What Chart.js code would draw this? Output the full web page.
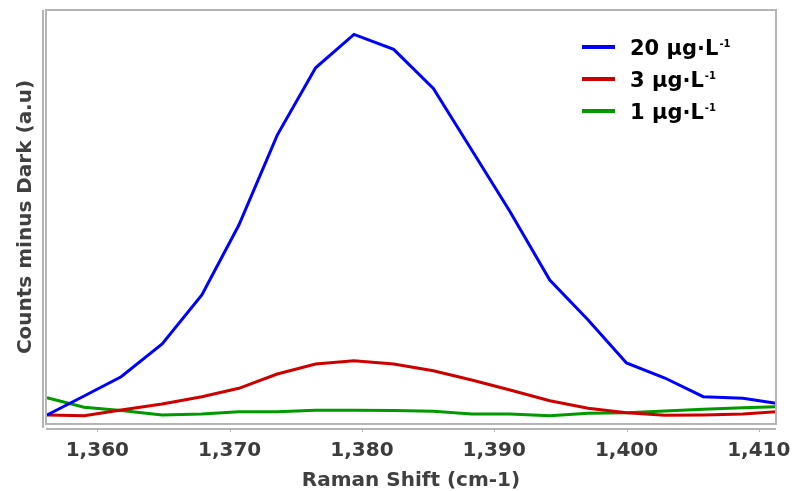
<!DOCTYPE html>
<html>
<head>
<meta charset="utf-8">
<script src="https://cdn.jsdelivr.net/npm/chart.js@4.4.1/dist/chart.umd.min.js"></script>
<style>
  body { margin: 0; background: #fff; }
  #wrap { width: 792px; height: 491px; }
</style>
</head>
<body>
<div id="wrap"><canvas id="raman_chart"></canvas></div>
<script>
// Raman shift (cm-1) sample positions
const ramanShift = [1356.2, 1359.0, 1361.8, 1364.9, 1367.9, 1370.7, 1373.6, 1376.5, 1379.4, 1382.4,
                    1385.4, 1388.3, 1391.2, 1394.2, 1397.1, 1400.0, 1402.9, 1405.8, 1408.8, 1411.3];

// counts minus dark, arbitrary units
const conc20 = [217, 676, 1142, 1932, 3115, 4806, 6979, 8605, 9411, 9049,
                8107, 6617, 5127, 3478, 2512, 1473, 1111, 659, 621, 500];
const conc3 = [217, 200, 338, 483, 659, 862, 1208, 1449, 1529, 1449,
               1287, 1063, 821, 563, 379, 273, 210, 217, 242, 297];
const conc1 = [635, 403, 326, 217, 242, 297, 297, 331, 331, 326,
               307, 242, 242, 200, 258, 273, 314, 355, 394, 418];

const legendBase = ['20 μg·L', '3 μg·L', '1 μg·L'];
const legendSup = ['-1', '-1', '-1'];
const xTicks = [1360, 1370, 1380, 1390, 1400, 1410];

const FONT = "'DejaVu Sans', sans-serif";
const AXIS_GREY = '#b4b4b4';

function points(ys) {
    return ys.map((y, i) => ({x: ramanShift[i], y: y}));
}

// frame around plot + detached axis lines and tick marks
const frameAndAxes = {
    id: 'frameAndAxes',
    afterDraw(chart) {
        const {ctx, chartArea: {left, top, right, bottom}} = chart;
        const xs = chart.scales.x;
        ctx.save();
        ctx.strokeStyle = AXIS_GREY;
        ctx.lineWidth = 2;
        ctx.strokeRect(left, top, right - left, bottom - top);
        ctx.beginPath();
        ctx.moveTo(left - 3, top);
        ctx.lineTo(left - 3, bottom + 4);
        ctx.moveTo(left, bottom + 5);
        ctx.lineTo(right, bottom + 5);
        ctx.stroke();
        ctx.lineWidth = 1;
        ctx.beginPath();
        xTicks.forEach(v => {
            const px = Math.round(xs.getPixelForValue(v)) + 0.5;
            ctx.moveTo(px, bottom + 5);
            ctx.lineTo(px, bottom + 8);
        });
        ctx.stroke();
        ctx.restore();
    }
};

// legend drawn inside the plot, top right
const insideLegend = {
    id: 'insideLegend',
    afterDatasetsDraw(chart) {
        const {ctx, chartArea: {right, top}} = chart;
        ctx.save();
        chart.data.datasets.forEach((ds, i) => {
            const cy = top + 37 + i * 32;
            const x0 = right - 194;
            ctx.strokeStyle = ds.borderColor;
            ctx.lineWidth = 4;
            ctx.beginPath();
            ctx.moveTo(x0, cy);
            ctx.lineTo(x0 + 33, cy);
            ctx.stroke();
            ctx.fillStyle = '#000';
            ctx.textBaseline = 'alphabetic';
            ctx.font = 'bold 21px ' + FONT;
            const tx = x0 + 48;
            const base = cy + 7.5;
            ctx.fillText(legendBase[i], tx, base);
            const w = ctx.measureText(legendBase[i]).width;
            ctx.font = 'bold 10px ' + FONT;
            ctx.fillText(legendSup[i], tx + w + 1, base - 8);
        });
        ctx.restore();
    }
};

new Chart(document.getElementById('raman_chart'), {
    type: 'line',
    data: {
        datasets: [
            {
                label: legendBase[0] + '⁻¹',
                data: points(conc20),
                borderColor: '#0000ff',
                backgroundColor: '#0000ff',
                borderWidth: 3,
                pointRadius: 0,
                tension: 0
            },
            {
                label: legendBase[1] + '⁻¹',
                data: points(conc3),
                borderColor: '#cc0000',
                backgroundColor: '#cc0000',
                borderWidth: 3,
                pointRadius: 0,
                tension: 0
            },
            {
                label: legendBase[2] + '⁻¹',
                data: points(conc1),
                borderColor: '#009900',
                backgroundColor: '#009900',
                borderWidth: 3,
                pointRadius: 0,
                tension: 0
            }
        ]
    },
    options: {
        responsive: true,
        maintainAspectRatio: false,
        animation: false,
        layout: {
            padding: {top: 10, right: 16, left: 0, bottom: 0}
        },
        plugins: {
            legend: {display: false},
            tooltip: {enabled: false}
        },
        scales: {
            x: {
                type: 'linear',
                min: 1356.12,
                max: 1411.3,
                afterFit: (scale) => {
                    scale.height = 67;
                    scale.paddingLeft = 0;
                    scale.paddingRight = 0;
                },
                grid: {display: false, drawTicks: false},
                border: {display: false},
                ticks: {
                    stepSize: 10,
                    includeBounds: false,
                    padding: 15,
                    color: '#3c3c3c',
                    font: {family: FONT, size: 20, weight: 'bold'}
                },
                afterBuildTicks: (scale) => {
                    scale.ticks = xTicks.map(v => ({value: v}));
                },
                title: {
                    display: true,
                    text: 'Raman Shift (cm-1)',
                    color: '#404040',
                    padding: {top: 0, bottom: 0},
                    font: {family: FONT, size: 20, weight: 'bold', lineHeight: 1}
                }
            },
            y: {
                min: 0,
                max: 10000,
                afterFit: (scale) => {
                    scale.width = 46;
                    scale.paddingTop = 0;
                    scale.paddingBottom = 0;
                },
                grid: {display: false, drawTicks: false},
                border: {display: false},
                ticks: {display: false},
                title: {
                    display: true,
                    text: 'Counts minus Dark (a.u)',
                    color: '#404040',
                    padding: {top: 16, bottom: 0},
                    font: {family: FONT, size: 20, weight: 'bold', lineHeight: 1}
                }
            }
        }
    },
    plugins: [frameAndAxes, insideLegend]
});
</script>
</body>
</html>
